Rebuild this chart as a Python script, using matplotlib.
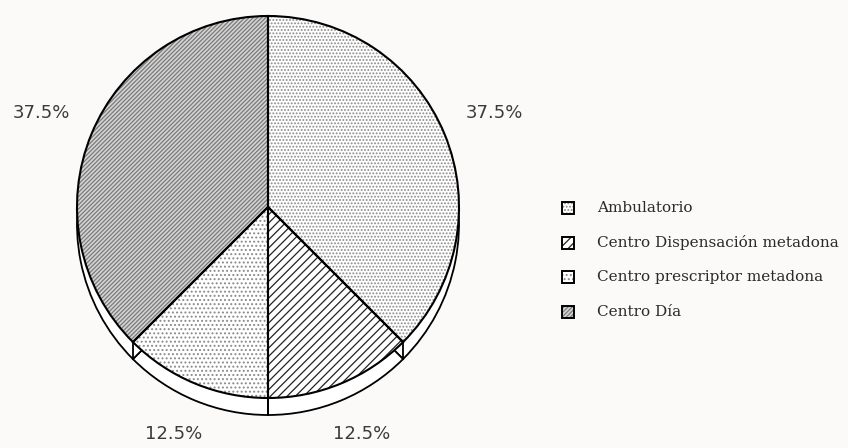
import matplotlib
matplotlib.use('Agg')
import matplotlib.pyplot as plt
from matplotlib.patches import Rectangle
import numpy as np

# ---- data ----
categories = ['Ambulatorio', 'Centro Dispensación metadona',
              'Centro prescriptor metadona', 'Centro Día']
shares = [37.5, 12.5, 12.5, 37.5]

# ---- styles ----
face_colors = ['#ffffff', '#ffffff', '#ffffff', '#d4d4d4']
hatch_colors = ['#8a8a8a', '#222222', '#8a8a8a', '#7a7a7a']
hatches = ['.....', '////', '....', '////////']
bg = '#fcfaf8'

plt.rcParams['hatch.linewidth'] = 0.9

W, H = 848, 448
fig = plt.figure(figsize=(W / 100, H / 100), dpi=100, facecolor=bg)
ax = fig.add_axes([0, 0, 1, 1])
ax.set_facecolor(bg)

cx, cy = 268, 241
R = 191
depth = 17

# rim (bottom face)
ax.pie(shares, radius=R, center=(cx, cy - depth), startangle=90, counterclock=False,
       colors=['#ffffff'] * len(shares),
       wedgeprops=dict(edgecolor='black', linewidth=1.3))

# top face: fills with hatches
wedges, _, autotexts = ax.pie(shares, radius=R, center=(cx, cy), startangle=90,
                              counterclock=False, colors=face_colors,
                              autopct=lambda p: f'{p:.1f}%', pctdistance=1.285,
                              textprops=dict(fontsize=13, color='#3a3a3a',
                                             family='DejaVu Sans'))
for w, h, hc in zip(wedges, hatches, hatch_colors):
    w.set_hatch(h)
    w.set_edgecolor(hc)
    w.set_linewidth(0)

# top face outlines
ax.pie(shares, radius=R, center=(cx, cy), startangle=90, counterclock=False,
       wedgeprops=dict(fill=False, edgecolor='black', linewidth=1.5))

# vertical rim edges at slice boundaries on the front side
total = float(sum(shares))
cum = np.cumsum([0] + shares)
for c in cum[:-1]:
    th = np.deg2rad(90 - 360 * c / total)
    if np.sin(th) < -0.01:
        x = cx + R * np.cos(th)
        yt = cy + R * np.sin(th)
        ax.plot([x, x], [yt, yt - depth], color='black', lw=1.3)

# legend (manual)
leg_x = 562
leg_y0 = 448 - 208
leg_dy = 34.5
sq = 12
for i, (cat, fc, hc, h) in enumerate(zip(categories, face_colors, hatch_colors, hatches)):
    y = leg_y0 - i * leg_dy
    ax.add_patch(Rectangle((leg_x, y - sq / 2), sq, sq, facecolor=fc,
                           edgecolor=hc, hatch=h, linewidth=0))
    ax.add_patch(Rectangle((leg_x, y - sq / 2), sq, sq, fill=False,
                           edgecolor='black', linewidth=1.4))
    ax.text(leg_x + 35, y, cat, fontsize=11, family='DejaVu Serif',
            color='#2a2a2a', va='center', ha='left')

ax.set_xlim(0, W)
ax.set_ylim(0, H)
ax.set_aspect('auto')
ax.axis('off')

fig.savefig('out.png', dpi=100, facecolor=bg)
